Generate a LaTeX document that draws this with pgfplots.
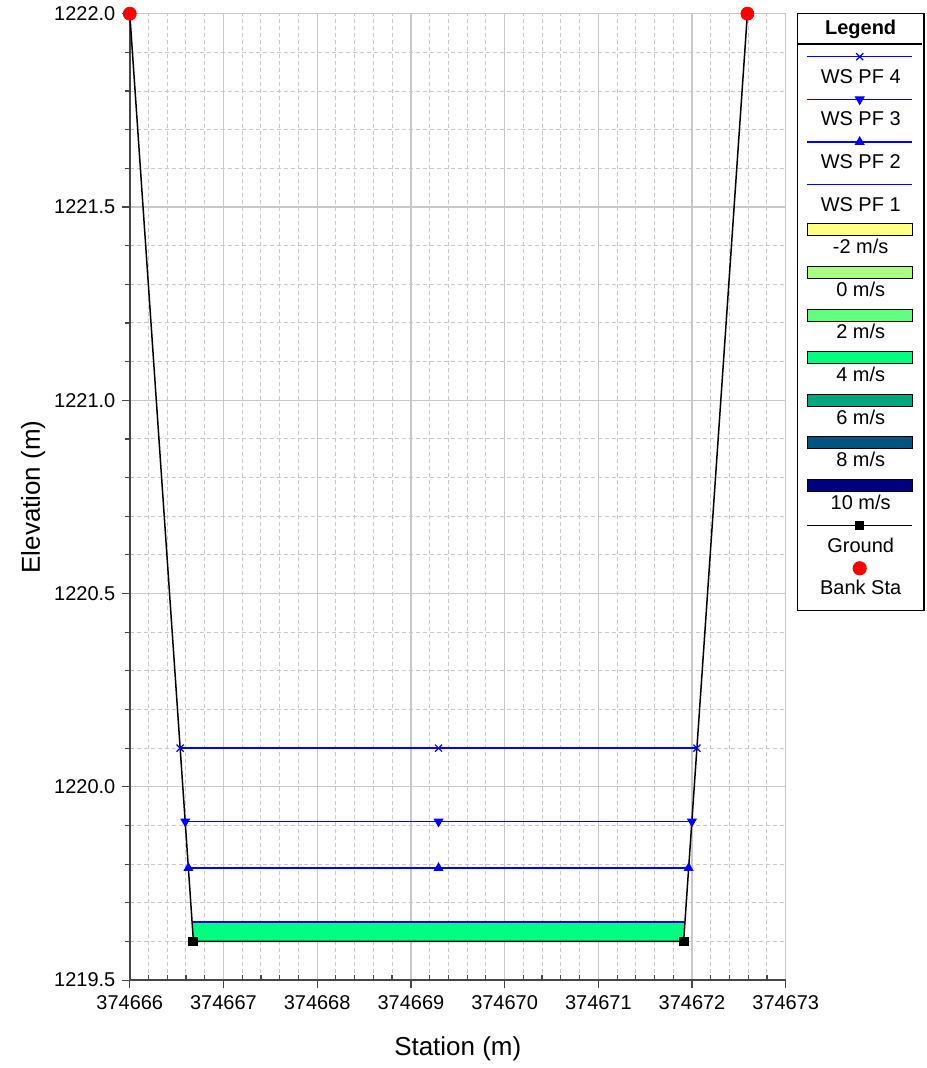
\documentclass[border=0pt]{standalone}
\usepackage{fontspec}
\setmainfont{Liberation Sans}
\usepackage{pgfplots}
\pgfplotsset{compat=1.18}

\definecolor{wsblue}{RGB}{0,0,255}
\definecolor{vm2}{RGB}{255,255,128}
\definecolor{v0}{RGB}{170,255,128}
\definecolor{v2}{RGB}{96,255,128}
\definecolor{v4}{RGB}{0,255,128}
\definecolor{v6}{RGB}{0,168,128}
\definecolor{v8}{RGB}{0,84,128}
\definecolor{v10}{RGB}{0,0,128}
\definecolor{gridgray}{RGB}{200,200,200}
\definecolor{axisgray}{RGB}{70,70,70}

% legend cells: sample drawn above, text centred below
\newcommand{\lgtext}[1]{\makebox[0pt][r]{\makebox[52.5pt]{#1}}}
\newcommand{\lgbox}{\path[draw=none,fill=none] (0pt,-4pt) rectangle (52.5pt,17.35pt);}
\newcommand{\wsimage}[1]{\addlegendimage{legend image code/.code={\lgbox
  \draw[overlay,color=wsblue,line width=0.75pt] (0pt,13.25pt) -- (52.5pt,13.25pt);
  \draw[overlay,color=wsblue,#1] plot[only marks] coordinates {(26.25pt,13.25pt)};}}}
\newcommand{\velimage}[1]{\addlegendimage{legend image code/.code={\lgbox
  \draw[overlay,fill=#1,draw=black,line width=0.5pt] (0pt,9pt) rectangle (52.5pt,15pt);}}}

\begin{document}
\begin{tikzpicture}
\begin{axis}[
    scale only axis, width=328.5pt, height=484pt,
    clip=false,
    xmin=374666, xmax=374673, ymin=1219.5, ymax=1222,
    xtick={374666,374667,374668,374669,374670,374671,374672,374673},
    ytick={1219.5,1220,1220.5,1221,1221.5,1222},
    minor x tick num=4, minor y tick num=4,
    grid=both,
    major grid style={gridgray, line width=0.6pt},
    minor grid style={gridgray, dash pattern=on 2pt off 1.5pt, line width=0.5pt},
    axis x line*=bottom, axis y line*=left,
    axis line style={-, axisgray, line width=0.8pt},
    tick align=outside, major tick length=4pt, minor tick length=2.5pt,
    every tick/.style={axisgray, line width=0.6pt},
    every minor x tick/.append style={yshift=2.5pt},
    scaled ticks=false,
    /pgf/number format/assume math mode=true,
    xticklabel style={/pgf/number format/.cd, fixed, precision=0, 1000 sep={}},
    yticklabel style={/pgf/number format/.cd, fixed, fixed zerofill, precision=1, 1000 sep={}},
    tick label style={font=\fontsize{10}{12}\selectfont, black},
    xlabel={Station (m)}, ylabel={Elevation (m)},
    label style={font=\fontsize{13}{15}\selectfont},
    xlabel style={at={(axis description cs:0.5,-0.0785)}, anchor=base},
    ylabel style={at={(axis description cs:-0.137,0.5)}, anchor=base},
    legend style={at={(1,1)}, anchor=north west, xshift=5.5pt, yshift=0.5pt,
        draw=black, line width=0.6pt, fill=white,
        inner xsep=5pt, inner ysep=4pt, column sep=0pt, row sep=0pt,
        cells={anchor=base}, nodes={inner sep=0pt, text height=0pt, text depth=0pt, draw=none},
        font=\fontsize{10}{12}\selectfont},
]
\coordinate (O) at (rel axis cs:0,0);

% velocity band (4 m/s) under WS PF 1
\addplot[forget plot, fill=v4, draw=none] coordinates {
    (374666.666,1219.65) (374666.68,1219.60) (374671.91,1219.60) (374671.924,1219.65)} -- cycle;

% water surfaces
\addplot[forget plot, color=wsblue, line width=0.75pt, mark=none] coordinates {
    (374666.666,1219.65) (374671.924,1219.65)};
\addplot[forget plot, color=wsblue, line width=0.75pt, mark=triangle*, mark size=2.4pt,
    mark options={line width=0.5pt}] coordinates {
    (374666.626,1219.79) (374669.295,1219.79) (374671.964,1219.79)};
\addplot[forget plot, color=wsblue, line width=0.75pt, mark=none] coordinates {
    (374666.592,1219.91) (374669.295,1219.91) (374671.998,1219.91)};
\addplot[forget plot, color=wsblue, only marks, mark=triangle*, mark size=2.4pt,
    mark options={rotate=180, line width=0.5pt}] coordinates {
    (374666.592,1219.91) (374669.295,1219.91) (374671.998,1219.91)};
\addplot[forget plot, color=wsblue, line width=0.75pt, mark=x, mark size=2.5pt,
    mark options={line width=0.6pt}] coordinates {
    (374666.538,1220.10) (374669.295,1220.10) (374672.052,1220.10)};

% ground
\addplot[forget plot, color=black, line width=0.75pt, mark=square*, mark size=2.1pt,
    mark indices={2,3}] coordinates {
    (374666.00,1222.0) (374666.68,1219.6) (374671.91,1219.6) (374672.59,1222.0)};
% bank stations
\addplot[forget plot, only marks, color=red, mark=*, mark size=3.25pt] coordinates {
    (374666.00,1222.0) (374672.59,1222.0)};

% legend
\addlegendimage{legend image code/.code={\path[draw=none,fill=none] (0pt,-7.15pt) rectangle (52.5pt,6.5pt);
  \draw[overlay,draw=black,line width=0.6pt] (-5pt,-4.85pt) -- (57.5pt,-4.85pt);}}
\addlegendentry{\lgtext{\textbf{Legend}}}
\wsimage{mark=x, mark size=2.5pt, line width=0.6pt}
\addlegendentry{\lgtext{WS PF 4}}
\wsimage{mark=triangle*, mark size=2.4pt, mark options={rotate=180}}
\addlegendentry{\lgtext{WS PF 3}}
\wsimage{mark=triangle*, mark size=2.4pt}
\addlegendentry{\lgtext{WS PF 2}}
\wsimage{mark=none}
\addlegendentry{\lgtext{WS PF 1}}
\velimage{vm2}
\addlegendentry{\lgtext{-2 m/s}}
\velimage{v0}
\addlegendentry{\lgtext{0 m/s}}
\velimage{v2}
\addlegendentry{\lgtext{2 m/s}}
\velimage{v4}
\addlegendentry{\lgtext{4 m/s}}
\velimage{v6}
\addlegendentry{\lgtext{6 m/s}}
\velimage{v8}
\addlegendentry{\lgtext{8 m/s}}
\velimage{v10}
\addlegendentry{\lgtext{10 m/s}}
\addlegendimage{legend image code/.code={\lgbox
  \draw[overlay,color=black,line width=0.75pt] (0pt,13.25pt) -- (52.5pt,13.25pt);
  \draw[overlay,color=black,mark=square*,mark size=2.1pt] plot[only marks] coordinates {(26.25pt,13.25pt)};}}
\addlegendentry{\lgtext{Ground}}
\addlegendimage{legend image code/.code={\lgbox
  \draw[overlay,color=red,mark=*,mark size=3.25pt] plot[only marks] coordinates {(26.25pt,13.25pt)};}}
\addlegendentry{\lgtext{Bank Sta}}
\end{axis}
\path (O) ++(-65pt,-44pt) rectangle ++(464pt,534pt);
\end{tikzpicture}
\end{document}
